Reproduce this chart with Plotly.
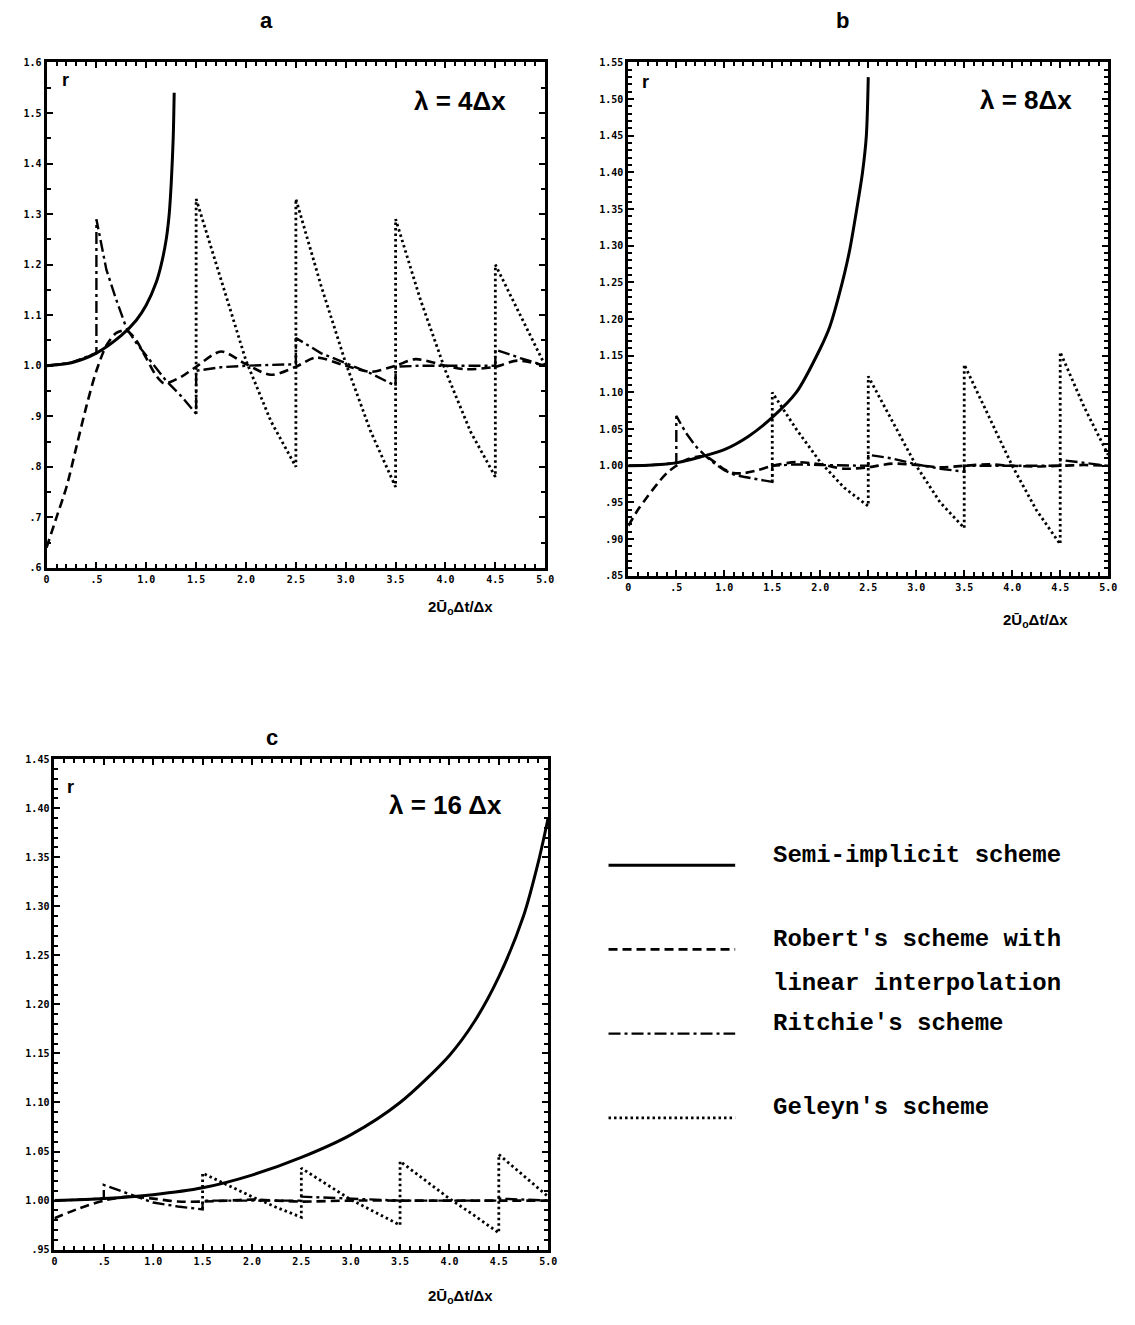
import plotly.graph_objects as go

W, H = 1135, 1325

# ---------------- data ----------------
# Panel a  (lambda = 4 dx)
semi_a_x = [0, 0.25, 0.5, 0.75, 0.9, 1.0, 1.1, 1.15, 1.2, 1.23, 1.25, 1.27, 1.28]
semi_a_y = [1.0, 1.006, 1.025, 1.06, 1.09, 1.12, 1.165, 1.2, 1.25, 1.3, 1.36, 1.45, 1.54]
robert_a_x = [0, 0.1, 0.2, 0.3, 0.4, 0.5, 0.6, 0.7, 0.8, 0.9, 1.0, 1.1, 1.18, 1.35, 1.5, 1.75, 2.0, 2.25,
              2.5, 2.7, 3.0, 3.25, 3.5, 3.7, 4.0, 4.2, 4.5, 4.72, 5.0]
robert_a_y = [0.64, 0.70, 0.76, 0.84, 0.92, 0.99, 1.04, 1.065, 1.07, 1.05, 1.015, 0.98, 0.965, 0.978, 0.998,
              1.028, 1.003, 0.982, 0.998, 1.016, 1.0, 0.988, 1.0, 1.013, 1.0, 0.993, 0.998, 1.01, 1.0]
ritchie_a_x = [0, 0.25, 0.5, 0.5, 0.6, 0.7, 0.8, 0.9, 1.0, 1.1, 1.2, 1.35, 1.5, 1.5, 1.75, 2.0, 2.25, 2.5,
               2.5, 2.75, 3.0, 3.25, 3.5, 3.5, 3.75, 4.0, 4.25, 4.5, 4.5, 4.75, 5.0]
ritchie_a_y = [1.0, 1.006, 1.025, 1.29, 1.19, 1.13, 1.075, 1.045, 1.02, 0.995, 0.97, 0.94, 0.905, 0.99, 0.997,
               1.0, 1.002, 1.003, 1.055, 1.025, 1.005, 0.985, 0.96, 0.998, 1.0, 1.0, 1.0, 1.0, 1.032, 1.015, 1.0]
geleyn_a_x = [1.5, 1.5, 1.75, 2.0, 2.25, 2.5, 2.5, 2.75, 3.0, 3.25, 3.5, 3.5, 3.75, 4.0, 4.25, 4.5, 4.5, 4.75, 5.0]
geleyn_a_y = [0.905, 1.33, 1.17, 1.01, 0.89, 0.80, 1.33, 1.16, 1.005, 0.87, 0.76, 1.29, 1.13, 0.99, 0.87, 0.78,
              1.20, 1.10, 1.0]

# Panel b  (lambda = 8 dx)
semi_b_x = [0, 0.25, 0.5, 0.75, 1.0, 1.25, 1.5, 1.75, 2.0, 2.1, 2.2, 2.3, 2.38, 2.44, 2.48, 2.5]
semi_b_y = [1.0, 1.001, 1.004, 1.012, 1.022, 1.04, 1.066, 1.10, 1.16, 1.19, 1.235, 1.29, 1.35, 1.40, 1.45, 1.53]
robert_b_x = [0, 0.1, 0.2, 0.3, 0.4, 0.5, 0.6, 0.7, 0.8, 0.9, 1.0, 1.1, 1.2, 1.35, 1.5, 1.75, 2.0, 2.25, 2.5,
              2.75, 3.0, 3.25, 3.5, 3.75, 4.0, 4.25, 4.5, 4.75, 5.0]
robert_b_y = [0.918, 0.94, 0.958, 0.975, 0.99, 1.0, 1.008, 1.012, 1.013, 1.005, 0.995, 0.99, 0.99, 0.994, 1.0,
              1.005, 1.002, 0.996, 0.998, 1.003, 1.001, 0.998, 1.0, 1.002, 1.0, 0.999, 1.0, 1.001, 1.0]
ritchie_b_x = [0, 0.25, 0.5, 0.5, 0.6, 0.7, 0.8, 0.9, 1.0, 1.1, 1.2, 1.35, 1.5, 1.5, 1.75, 2.0, 2.25, 2.5,
               2.5, 2.75, 3.0, 3.25, 3.5, 3.5, 3.75, 4.0, 4.25, 4.5, 4.5, 4.75, 5.0]
ritchie_b_y = [1.0, 1.001, 1.004, 1.068, 1.045, 1.027, 1.014, 1.003, 0.994, 0.988, 0.985, 0.981, 0.978, 1.0,
               1.002, 1.001, 1.0, 1.0, 1.015, 1.01, 1.002, 0.996, 0.992, 1.0, 1.0, 1.0, 1.0, 1.0, 1.008, 1.004, 1.0]
geleyn_b_x = [1.5, 1.5, 1.75, 2.0, 2.25, 2.5, 2.5, 2.75, 3.0, 3.25, 3.5, 3.5, 3.75, 4.0, 4.25, 4.5, 4.5, 4.75, 5.0]
geleyn_b_y = [0.978, 1.10, 1.05, 1.005, 0.97, 0.945, 1.122, 1.06, 1.0, 0.95, 0.915, 1.138, 1.07, 1.0, 0.94,
              0.893, 1.155, 1.08, 1.015]

# Panel c  (lambda = 16 dx)
semi_c_x = [0, 0.5, 1.0, 1.5, 2.0, 2.5, 3.0, 3.5, 4.0, 4.25, 4.5, 4.75, 4.9, 5.0]
semi_c_y = [1.0, 1.002, 1.006, 1.013, 1.026, 1.044, 1.067, 1.100, 1.148, 1.182, 1.228, 1.29, 1.345, 1.39]
robert_c_x = [0, 0.25, 0.5, 0.75, 1.0, 1.25, 1.5, 1.75, 2.0, 2.25, 2.5, 3.0, 3.5, 4.0, 4.5, 5.0]
robert_c_y = [0.982, 0.992, 1.0, 1.004, 1.002, 0.999, 0.999, 1.0, 1.001, 1.0, 0.999, 1.0, 1.0, 1.0, 1.0, 1.0]
ritchie_c_x = [0, 0.5, 0.5, 0.75, 1.0, 1.25, 1.5, 1.5, 2.0, 2.5, 2.5, 3.0, 3.5, 3.5, 4.0, 4.5, 4.5, 5.0]
ritchie_c_y = [1.0, 1.002, 1.016, 1.007, 0.998, 0.994, 0.991, 1.0, 1.0, 1.0, 1.004, 1.002, 1.0, 1.0, 1.0, 1.0,
               1.002, 1.0]
geleyn_c_x = [1.5, 1.5, 1.75, 2.0, 2.25, 2.5, 2.5, 2.75, 3.0, 3.25, 3.5, 3.5, 3.75, 4.0, 4.25, 4.5, 4.5, 4.75, 5.0]
geleyn_c_y = [0.991, 1.028, 1.016, 1.004, 0.993, 0.983, 1.033, 1.017, 1.001, 0.988, 0.975, 1.040, 1.021, 1.002,
              0.985, 0.967, 1.047, 1.025, 1.004]

# tick labels
x_tickvals = [0, 0.5, 1.0, 1.5, 2.0, 2.5, 3.0, 3.5, 4.0, 4.5, 5.0]
x_ticktext = ["0", ".5", "1.0", "1.5", "2.0", "2.5", "3.0", "3.5", "4.0", "4.5", "5.0"]
ya_tickvals = [0.6, 0.7, 0.8, 0.9, 1.0, 1.1, 1.2, 1.3, 1.4, 1.5, 1.6]
ya_ticktext = [".6", ".7", ".8", ".9", "1.0", "1.1", "1.2", "1.3", "1.4", "1.5", "1.6"]
yb_tickvals = [0.85, 0.90, 0.95, 1.00, 1.05, 1.10, 1.15, 1.20, 1.25, 1.30, 1.35, 1.40, 1.45, 1.50, 1.55]
yb_ticktext = [".85", ".90", ".95", "1.00", "1.05", "1.10", "1.15", "1.20", "1.25", "1.30", "1.35", "1.40",
               "1.45", "1.50", "1.55"]
yc_tickvals = [0.95, 1.00, 1.05, 1.10, 1.15, 1.20, 1.25, 1.30, 1.35, 1.40, 1.45]
yc_ticktext = [".95", "1.00", "1.05", "1.10", "1.15", "1.20", "1.25", "1.30", "1.35", "1.40", "1.45"]

series_names = ["Semi-implicit scheme", "Robert's scheme with<br>linear interpolation",
                "Ritchie's scheme", "Geleyn's scheme"]

# ---------------- styling ----------------
def fx(p):
    return p / W

def fy(p):
    return 1 - p / H

styles = [
    dict(color="black", width=3, dash="solid"),
    dict(color="black", width=2.6, dash="9px,5px"),
    dict(color="black", width=2.4, dash="12px,4px,3px,4px"),
    dict(color="black", width=2.8, dash="2.5px,3px"),
]

panels = [
    ("x", "y", [semi_a_x, robert_a_x, ritchie_a_x, geleyn_a_x], [semi_a_y, robert_a_y, ritchie_a_y, geleyn_a_y]),
    ("x2", "y2", [semi_b_x, robert_b_x, ritchie_b_x, geleyn_b_x], [semi_b_y, robert_b_y, ritchie_b_y, geleyn_b_y]),
    ("x3", "y3", [semi_c_x, robert_c_x, ritchie_c_x, geleyn_c_x], [semi_c_y, robert_c_y, ritchie_c_y, geleyn_c_y]),
]

fig = go.Figure()
for xa, ya, xs, ys in panels:
    for i in range(4):
        ln = dict(styles[i])
        if i in (0, 1):
            ln["shape"] = "spline"
            ln["smoothing"] = 0.8
        fig.add_trace(go.Scatter(x=xs[i], y=ys[i], mode="lines", line=ln, xaxis=xa, yaxis=ya,
                                 showlegend=False, name=series_names[i].replace("<br>", " "),
                                 hoverinfo="skip"))

tickfont = dict(family="DejaVu Sans Mono", size=10, color="black", weight="bold")

def xaxis(domain, anchor):
    return dict(domain=domain, anchor=anchor, range=[0, 5], tickvals=x_tickvals, ticktext=x_ticktext,
                ticks="inside", ticklen=6, tickwidth=2, tickcolor="black", showline=True, linewidth=3,
                linecolor="black", mirror="allticks", showgrid=False, zeroline=False, tickfont=tickfont,
                minor=dict(dtick=0.1, ticks="inside", ticklen=4, tickwidth=1.5, tickcolor="black", showgrid=False))

def yaxis(domain, anchor, rng, tv, tt, mdt):
    return dict(domain=domain, anchor=anchor, range=rng, tickvals=tv, ticktext=tt,
                ticks="inside", ticklen=6, tickwidth=2, tickcolor="black", showline=True, linewidth=3,
                linecolor="black", mirror="allticks", showgrid=False, zeroline=False, tickfont=tickfont,
                minor=dict(dtick=mdt, tick0=rng[0], ticks="inside", ticklen=4, tickwidth=1.5,
                           tickcolor="black", showgrid=False))

fig.update_layout(
    width=W, height=H, margin=dict(l=0, r=0, t=0, b=0),
    paper_bgcolor="white", plot_bgcolor="white",
    xaxis=xaxis([fx(44), fx(548)], "y"),
    yaxis=yaxis([fy(567), fy(57)], "x", [0.6, 1.6], ya_tickvals, ya_ticktext, 0.05),
    xaxis2=xaxis([fx(632), fx(1117)], "y2"),
    yaxis2=yaxis([fy(575), fy(57)], "x2", [0.85, 1.55], yb_tickvals, yb_ticktext, 0.01),
    xaxis3=xaxis([fx(52), fx(551)], "y3"),
    yaxis3=yaxis([fy(1255), fy(760)], "x3", [0.95, 1.45], yc_tickvals, yc_ticktext, 0.01),
)

ann = []
def text(x, y, s, size, family="Liberation Sans", bold=True, xanchor="center"):
    ann.append(dict(x=fx(x), y=fy(y), xref="paper", yref="paper", text=s, showarrow=False,
                    xanchor=xanchor, yanchor="middle",
                    font=dict(family=family, size=size, color="black", weight="bold" if bold else "normal")))

# panel letters
text(266, 15, "a", 22)
text(848, 15, "b", 22)
text(272, 738, "c", 22)
# r labels
text(63, 75, "r", 18)
text(649, 77, "r", 18)
text(68, 788, "r", 18)
# lambda labels
text(462, 96, "λ = 4Δx", 26)
text(1034, 95, "λ = 8Δx", 26)
text(447, 806, "λ = 16 Δx", 26)
# axis titles
xtitle = "2Ū<sub>o</sub>Δt/Δx"
text(462, 607, xtitle, 15)
text(1044, 620, xtitle, 15)
text(462, 1302, xtitle, 15)

# legend
leg_y = [857, 942, 1027, 1112]
mono = "Liberation Mono"
text(776, 857, "Semi-implicit scheme", 24, family=mono, xanchor="left")
text(776, 942, "Robert's scheme with", 24, family=mono, xanchor="left")
text(776, 986, "linear interpolation", 24, family=mono, xanchor="left")
text(776, 1027, "Ritchie's scheme", 24, family=mono, xanchor="left")
text(776, 1112, "Geleyn's scheme", 24, family=mono, xanchor="left")
fig.update_layout(annotations=ann)

for i, yy in enumerate(leg_y):
    st = dict(styles[i])
    fig.add_shape(type="line", xref="paper", yref="paper", x0=fx(612), x1=fx(740), y0=fy(yy + 10),
                  y1=fy(yy + 10), line=st)

fig.write_html("out.html", config={"displayModeBar": False},
               post_script="document.body.style.margin='0';")
